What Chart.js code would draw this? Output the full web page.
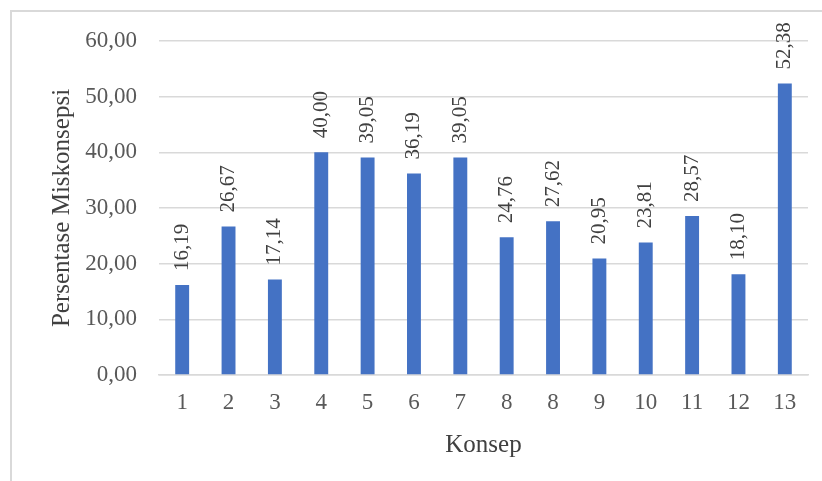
<!DOCTYPE html>
<html>
<head>
<meta charset="utf-8">
<script src="https://cdn.jsdelivr.net/npm/chart.js@4"></script>
<style>
  html, body { margin: 0; padding: 0; background: #ffffff; }
  #wrap { position: relative; width: 822px; height: 481px; overflow: hidden; }
  #frame { position: absolute; left: 10px; top: 10px; width: 900px; height: 600px;
           border-left: 2px solid #d9d9d9; border-top: 2px solid #d9d9d9; }
  #c { position: absolute; left: 0; top: 0; }
</style>
</head>
<body>
<div id="wrap">
  <div id="frame"></div>
  <canvas id="c" width="822" height="481"></canvas>
</div>
<script>
const categories = ['1', '2', '3', '4', '5', '6', '7', '8', '8', '9', '10', '11', '12', '13'];
const values = [16.19, 26.67, 17.14, 40.00, 39.05, 36.19, 39.05, 24.76, 27.62, 20.95, 23.81, 28.57, 18.10, 52.38];
const yTitle = 'Persentase Miskonsepsi';
const xTitle = 'Konsep';

const fmt = v => Number(v).toFixed(2).replace('.', ',');
const SERIF = '"Liberation Serif", "Times New Roman", serif';

const labelPlugin = {
  id: 'barLabels',
  afterDatasetsDraw(chart) {
    const ctx = chart.ctx;
    const meta = chart.getDatasetMeta(0);
    ctx.save();
    ctx.fillStyle = '#404040';
    ctx.font = '21px ' + SERIF;
    ctx.textAlign = 'left';
    ctx.textBaseline = 'middle';
    meta.data.forEach((bar, i) => {
      ctx.save();
      ctx.translate(bar.x, bar.y - 14);
      ctx.rotate(-Math.PI / 2);
      ctx.fillText(fmt(values[i]), 0, 0);
      ctx.restore();
    });
    ctx.restore();
  }
};

new Chart(document.getElementById('c'), {
  type: 'bar',
  data: {
    labels: categories,
    datasets: [{
      data: values,
      backgroundColor: '#4472C4',
      borderWidth: 0,
      categoryPercentage: 1.0,
      barPercentage: 0.3
    }]
  },
  options: {
    responsive: false,
    animation: false,
    devicePixelRatio: 1,
    layout: { padding: { left: 0, right: 14, top: 41, bottom: 0 } },
    plugins: { legend: { display: false }, tooltip: { enabled: false } },
    scales: {
      x: {
        grid: { display: false, drawTicks: false },
        border: { display: true, color: '#d9d9d9', width: 1.5 },
        ticks: { color: '#595959', font: { family: SERIF, size: 23 }, padding: 14, maxRotation: 0, autoSkip: false },
        title: { display: true, text: xTitle, color: '#404040', font: { family: SERIF, size: 25 }, padding: { top: 0, bottom: 21 } },
        afterFit(scale) { scale.height = 106; }
      },
      y: {
        min: 0, max: 60,
        ticks: { stepSize: 10, color: '#595959', font: { family: SERIF, size: 23 }, padding: 22, callback: v => fmt(v) },
        grid: { color: '#d9d9d9', lineWidth: 1.5, drawTicks: false },
        border: { display: false },
        title: { display: true, text: yTitle, color: '#404040', font: { family: SERIF, size: 25 }, padding: { top: 47, bottom: 0 } },
        afterFit(scale) { scale.width = 159; }
      }
    }
  },
  plugins: [labelPlugin]
});
</script>
</body>
</html>
